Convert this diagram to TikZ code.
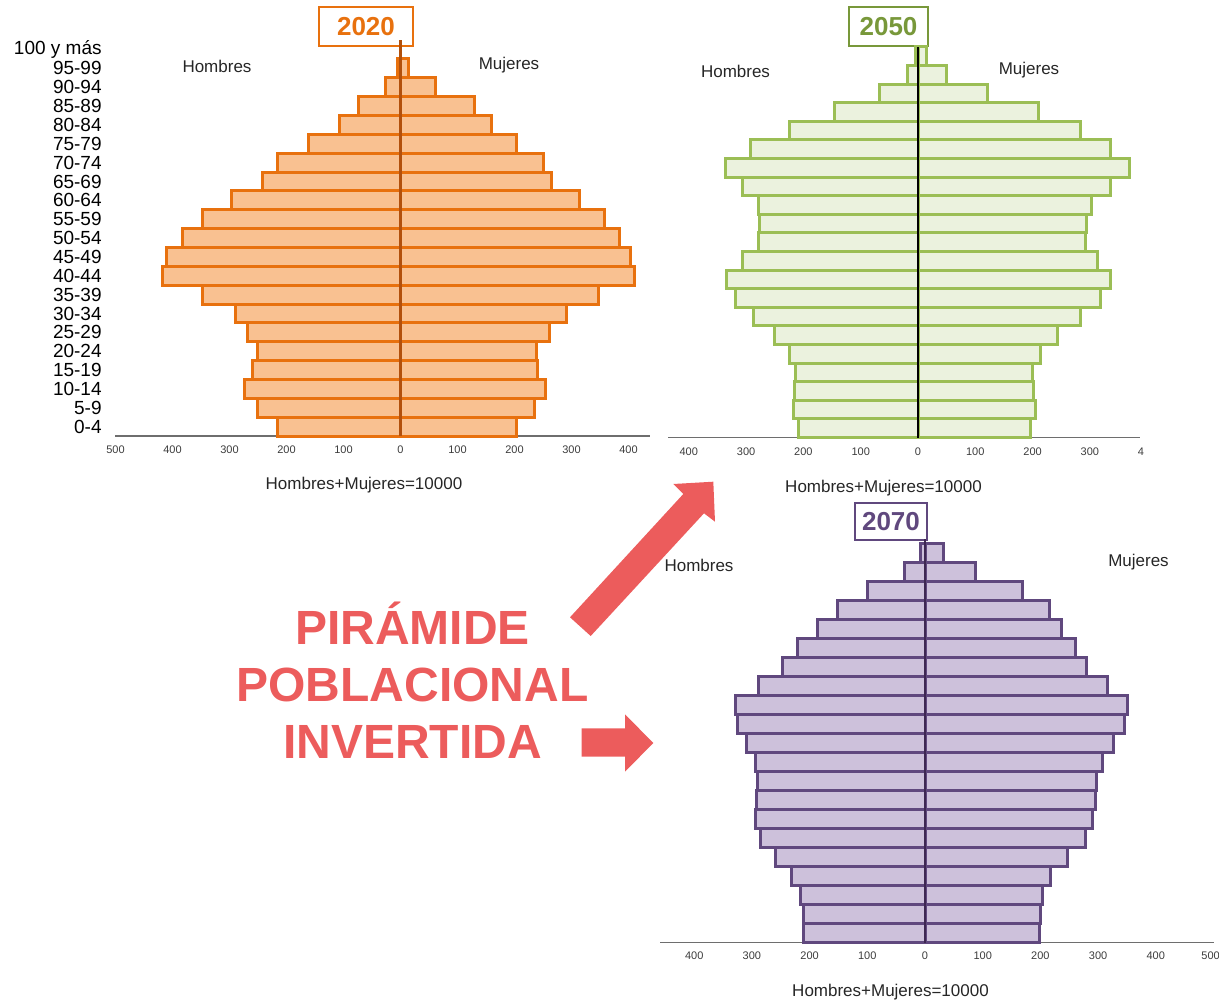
\documentclass[tikz,border=0pt]{standalone}
\usepackage{fontspec}
\setmainfont{Liberation Sans}
\usepackage{tikz}

\definecolor{naranja}{RGB}{232,113,14}
\definecolor{naranjafill}{RGB}{249,193,145}
\definecolor{naranjaeje}{RGB}{178,80,12}
\definecolor{verde}{RGB}{155,190,85}
\definecolor{verdefill}{RGB}{235,242,222}
\definecolor{verdetxt}{RGB}{120,152,58}
\definecolor{morado}{RGB}{96,72,126}
\definecolor{moradofill}{RGB}{205,193,219}
\definecolor{moradoeje}{RGB}{62,40,82}
\definecolor{rojo}{RGB}{236,92,92}
\definecolor{gris}{RGB}{110,110,110}
\definecolor{grisTxt}{RGB}{60,60,60}

\tikzset{
  agelbl/.style={anchor=east, font=\fontsize{19}{19}\selectfont},
  ticklbl/.style={text=grisTxt, font=\fontsize{11}{11}\selectfont},
  sexlbl/.style={text=black!85, font=\fontsize{17}{17}\selectfont},
  yearbox/.style={draw=#1, text=#1, fill=white, line width=2pt, font=\fontsize{26}{26}\selectfont\bfseries},
  bar2020/.style={draw=naranja, fill=naranjafill, line width=3pt},
  bar2050/.style={draw=verde, fill=verdefill, line width=3pt},
  bar2070/.style={draw=morado, fill=moradofill, line width=3pt},
  axisline/.style={draw=gris, line width=1.5pt},
}

\begin{document}
\begin{tikzpicture}[x=1pt, y=-1pt, every node/.style={inner sep=0pt}]
\useasboundingbox (0,0) rectangle (1219,1003);

%% ---------- 2020 ----------
\node[yearbox=naranja, minimum width=94pt, minimum height=39pt] (y2020) at (366,27) {2020};
\begin{scope}[shift={(400.5,436)}, x=0.57pt, y=18.85pt]
	\draw[axisline] (-500,0) -- (438,0);
	\draw[bar2020] (-216,0) rectangle (0,1);
	\draw[bar2020] (0,0) rectangle (203,1);
	\draw[bar2020] (-251,1) rectangle (0,2);
	\draw[bar2020] (0,1) rectangle (235,2);
	\draw[bar2020] (-273,2) rectangle (0,3);
	\draw[bar2020] (0,2) rectangle (255,3);
	\draw[bar2020] (-259,3) rectangle (0,4);
	\draw[bar2020] (0,3) rectangle (241,4);
	\draw[bar2020] (-251,4) rectangle (0,5);
	\draw[bar2020] (0,4) rectangle (238,5);
	\draw[bar2020] (-269,5) rectangle (0,6);
	\draw[bar2020] (0,5) rectangle (262,6);
	\draw[bar2020] (-290,6) rectangle (0,7);
	\draw[bar2020] (0,6) rectangle (291,7);
	\draw[bar2020] (-347,7) rectangle (0,8);
	\draw[bar2020] (0,7) rectangle (348,8);
	\draw[bar2020] (-418,8) rectangle (0,9);
	\draw[bar2020] (0,8) rectangle (411,9);
	\draw[bar2020] (-410,9) rectangle (0,10);
	\draw[bar2020] (0,9) rectangle (404,10);
	\draw[bar2020] (-383,10) rectangle (0,11);
	\draw[bar2020] (0,10) rectangle (385,11);
	\draw[bar2020] (-347,11) rectangle (0,12);
	\draw[bar2020] (0,11) rectangle (358,12);
	\draw[bar2020] (-296,12) rectangle (0,13);
	\draw[bar2020] (0,12) rectangle (314,13);
	\draw[bar2020] (-242,13) rectangle (0,14);
	\draw[bar2020] (0,13) rectangle (265,14);
	\draw[bar2020] (-215,14) rectangle (0,15);
	\draw[bar2020] (0,14) rectangle (250,15);
	\draw[bar2020] (-162,15) rectangle (0,16);
	\draw[bar2020] (0,15) rectangle (204,16);
	\draw[bar2020] (-107,16) rectangle (0,17);
	\draw[bar2020] (0,16) rectangle (159,17);
	\draw[bar2020] (-73,17) rectangle (0,18);
	\draw[bar2020] (0,17) rectangle (130,18);
	\draw[bar2020] (-26,18) rectangle (0,19);
	\draw[bar2020] (0,18) rectangle (62,19);
	\draw[bar2020] (-6,19) rectangle (0,20);
	\draw[bar2020] (0,19) rectangle (14,20);
	\draw[naranjaeje, line width=2.5pt] (0,0) -- (0,21);
	%% age groups
	\node[agelbl] (e00) at (-524,0.5) {0-4};
	\node[agelbl] (e05) at (-524,1.5) {5-9};
	\node[agelbl] (e10) at (-524,2.5) {10-14};
	\node[agelbl] (e15) at (-524,3.5) {15-19};
	\node[agelbl] (e20) at (-524,4.5) {20-24};
	\node[agelbl] (e25) at (-524,5.5) {25-29};
	\node[agelbl] (e30) at (-524,6.5) {30-34};
	\node[agelbl] (e35) at (-524,7.5) {35-39};
	\node[agelbl] (e40) at (-524,8.5) {40-44};
	\node[agelbl] (e45) at (-524,9.5) {45-49};
	\node[agelbl] (e50) at (-524,10.5) {50-54};
	\node[agelbl] (e55) at (-524,11.5) {55-59};
	\node[agelbl] (e60) at (-524,12.5) {60-64};
	\node[agelbl] (e65) at (-524,13.5) {65-69};
	\node[agelbl] (e70) at (-524,14.5) {70-74};
	\node[agelbl] (e75) at (-524,15.5) {75-79};
	\node[agelbl] (e80) at (-524,16.5) {80-84};
	\node[agelbl] (e85) at (-524,17.5) {85-89};
	\node[agelbl] (e90) at (-524,18.5) {90-94};
	\node[agelbl] (e95) at (-524,19.5) {95-99};
	\node[agelbl] (e100) at (-524,20.5) {100 y más};
	%% ticks
	\node[ticklbl] (a1) at (-500,-0.74) {500};
	\node[ticklbl] (a2) at (-400,-0.74) {400};
	\node[ticklbl] (a3) at (-300,-0.74) {300};
	\node[ticklbl] (a4) at (-200,-0.74) {200};
	\node[ticklbl] (a5) at (-100,-0.74) {100};
	\node[ticklbl] (a6) at (0,-0.74) {0};
	\node[ticklbl] (a7) at (100,-0.74) {100};
	\node[ticklbl] (a8) at (200,-0.74) {200};
	\node[ticklbl] (a9) at (300,-0.74) {300};
	\node[ticklbl] (a10) at (400,-0.74) {400};
\end{scope}
\node[sexlbl] (h2020) at (217,66.5) {Hombres};
\node[sexlbl] (m2020) at (509,65.5) {Mujeres};
\node[sexlbl] (t2020) at (364,485) {Hombres+Mujeres=10000};

%% ---------- 2050 ----------
\node[yearbox=verdetxt, minimum width=79pt, minimum height=39pt] (y2050) at (888.5,26.5) {2050};
\begin{scope}[shift={(918,437.5)}, x=0.573pt, y=18.6pt]
	\draw[axisline] (-436,0) -- (387,0);
	\draw[bar2050] (-209,0) rectangle (0,1);
	\draw[bar2050] (0,0) rectangle (196,1);
	\draw[bar2050] (-217,1) rectangle (0,2);
	\draw[bar2050] (0,1) rectangle (205,2);
	\draw[bar2050] (-215,2) rectangle (0,3);
	\draw[bar2050] (0,2) rectangle (202,3);
	\draw[bar2050] (-213,3) rectangle (0,4);
	\draw[bar2050] (0,3) rectangle (200,4);
	\draw[bar2050] (-225,4) rectangle (0,5);
	\draw[bar2050] (0,4) rectangle (214,5);
	\draw[bar2050] (-250,5) rectangle (0,6);
	\draw[bar2050] (0,5) rectangle (244,6);
	\draw[bar2050] (-287,6) rectangle (0,7);
	\draw[bar2050] (0,6) rectangle (284,7);
	\draw[bar2050] (-318,7) rectangle (0,8);
	\draw[bar2050] (0,7) rectangle (319,8);
	\draw[bar2050] (-334,8) rectangle (0,9);
	\draw[bar2050] (0,8) rectangle (336,9);
	\draw[bar2050] (-307,9) rectangle (0,10);
	\draw[bar2050] (0,9) rectangle (314,10);
	\draw[bar2050] (-278,10) rectangle (0,11);
	\draw[bar2050] (0,10) rectangle (293,11);
	\draw[bar2050] (-276,11) rectangle (0,12);
	\draw[bar2050] (0,11) rectangle (294,12);
	\draw[bar2050] (-278,12) rectangle (0,13);
	\draw[bar2050] (0,12) rectangle (303,13);
	\draw[bar2050] (-307,13) rectangle (0,14);
	\draw[bar2050] (0,13) rectangle (336,14);
	\draw[bar2050] (-336,14) rectangle (0,15);
	\draw[bar2050] (0,14) rectangle (369,15);
	\draw[bar2050] (-293,15) rectangle (0,16);
	\draw[bar2050] (0,15) rectangle (336,16);
	\draw[bar2050] (-225,16) rectangle (0,17);
	\draw[bar2050] (0,16) rectangle (283,17);
	\draw[bar2050] (-145,17) rectangle (0,18);
	\draw[bar2050] (0,17) rectangle (211,18);
	\draw[bar2050] (-68,18) rectangle (0,19);
	\draw[bar2050] (0,18) rectangle (122,19);
	\draw[bar2050] (-19,19) rectangle (0,20);
	\draw[bar2050] (0,19) rectangle (49,20);
	\draw[bar2050] (-4,20) rectangle (0,21);
	\draw[bar2050] (0,20) rectangle (14,21);
	\draw[black, line width=1.5pt] (0,0) -- (0,21);
	%% ticks
	\node[ticklbl] (b1) at (-400,-0.78) {400};
	\node[ticklbl] (b2) at (-300,-0.78) {300};
	\node[ticklbl] (b3) at (-200,-0.78) {200};
	\node[ticklbl] (b4) at (-100,-0.78) {100};
	\node[ticklbl] (b5) at (0,-0.78) {0};
	\node[ticklbl] (b6) at (100,-0.78) {100};
	\node[ticklbl] (b7) at (200,-0.78) {200};
	\node[ticklbl] (b8) at (300,-0.78) {300};
	\node[ticklbl] (b9) at (389,-0.78) {4};
\end{scope}
\node[sexlbl] (h2050) at (735.5,71.5) {Hombres};
\node[sexlbl] (m2050) at (1029,70.5) {Mujeres};
\node[sexlbl] (t2050) at (883.5,488) {Hombres+Mujeres=10000};

%% ---------- 2070 ----------
\node[yearbox=morado, minimum width=72pt, minimum height=37pt] (y2070) at (891,521.5) {2070};
\begin{scope}[shift={(925,942.7)}, x=0.577pt, y=19.02pt]
	\draw[axisline] (-459,0) -- (501,0);
	\draw[bar2070] (-210,0) rectangle (0,1);
	\draw[bar2070] (0,0) rectangle (198,1);
	\draw[bar2070] (-211,1) rectangle (0,2);
	\draw[bar2070] (0,1) rectangle (200,2);
	\draw[bar2070] (-215,2) rectangle (0,3);
	\draw[bar2070] (0,2) rectangle (203,3);
	\draw[bar2070] (-231,3) rectangle (0,4);
	\draw[bar2070] (0,3) rectangle (217,4);
	\draw[bar2070] (-259,4) rectangle (0,5);
	\draw[bar2070] (0,4) rectangle (247,5);
	\draw[bar2070] (-285,5) rectangle (0,6);
	\draw[bar2070] (0,5) rectangle (278,6);
	\draw[bar2070] (-294,6) rectangle (0,7);
	\draw[bar2070] (0,6) rectangle (291,7);
	\draw[bar2070] (-292,7) rectangle (0,8);
	\draw[bar2070] (0,7) rectangle (295,8);
	\draw[bar2070] (-290,8) rectangle (0,9);
	\draw[bar2070] (0,8) rectangle (298,9);
	\draw[bar2070] (-293,9) rectangle (0,10);
	\draw[bar2070] (0,9) rectangle (307,10);
	\draw[bar2070] (-309,10) rectangle (0,11);
	\draw[bar2070] (0,10) rectangle (326,11);
	\draw[bar2070] (-325,11) rectangle (0,12);
	\draw[bar2070] (0,11) rectangle (345,12);
	\draw[bar2070] (-328,12) rectangle (0,13);
	\draw[bar2070] (0,12) rectangle (351,13);
	\draw[bar2070] (-289,13) rectangle (0,14);
	\draw[bar2070] (0,13) rectangle (316,14);
	\draw[bar2070] (-247,14) rectangle (0,15);
	\draw[bar2070] (0,14) rectangle (280,15);
	\draw[bar2070] (-221,15) rectangle (0,16);
	\draw[bar2070] (0,15) rectangle (260,16);
	\draw[bar2070] (-187,16) rectangle (0,17);
	\draw[bar2070] (0,16) rectangle (236,17);
	\draw[bar2070] (-151,17) rectangle (0,18);
	\draw[bar2070] (0,17) rectangle (215,18);
	\draw[bar2070] (-99,18) rectangle (0,19);
	\draw[bar2070] (0,18) rectangle (169,19);
	\draw[bar2070] (-35,19) rectangle (0,20);
	\draw[bar2070] (0,19) rectangle (87,20);
	\draw[bar2070] (-7,20) rectangle (0,21);
	\draw[bar2070] (0,20) rectangle (32,21);
	\draw[moradoeje, line width=2.5pt] (0,0) -- (0,21.2);
	%% ticks
	\node[ticklbl] (c1) at (-400,-0.7) {400};
	\node[ticklbl] (c2) at (-300,-0.7) {300};
	\node[ticklbl] (c3) at (-200,-0.7) {200};
	\node[ticklbl] (c4) at (-100,-0.7) {100};
	\node[ticklbl] (c5) at (0,-0.7) {0};
	\node[ticklbl] (c6) at (100,-0.7) {100};
	\node[ticklbl] (c7) at (200,-0.7) {200};
	\node[ticklbl] (c8) at (300,-0.7) {300};
	\node[ticklbl] (c9) at (400,-0.7) {400};
	\node[ticklbl] (c10) at (495,-0.7) {500};
\end{scope}
\node[sexlbl] (h2070) at (699,565) {Hombres};
\node[sexlbl] (m2070) at (1138.5,562) {Mujeres};
\node[sexlbl] (t2070) at (890.5,992.5) {Hombres+Mujeres=10000};

%% ---------- title and arrows ----------
\node[text=rojo, align=center, font=\fontsize{48}{57}\selectfont\bfseries] (titulo) at (412.5,680) {PIRÁMIDE\\POBLACIONAL\\INVERTIDA};
\fill[rojo] (570,617.3) -- (683.3,494) -- (673.3,484) -- (713.3,481.7) -- (715,521.7) -- (704,513.3) -- (590.7,636) -- cycle;
\fill[rojo] (581.7,728.3) -- (625,728.3) -- (625,714.3) -- (653.3,743) -- (625,771.7) -- (625,756.7) -- (581.7,756.7) -- cycle;

\end{tikzpicture}
\end{document}
